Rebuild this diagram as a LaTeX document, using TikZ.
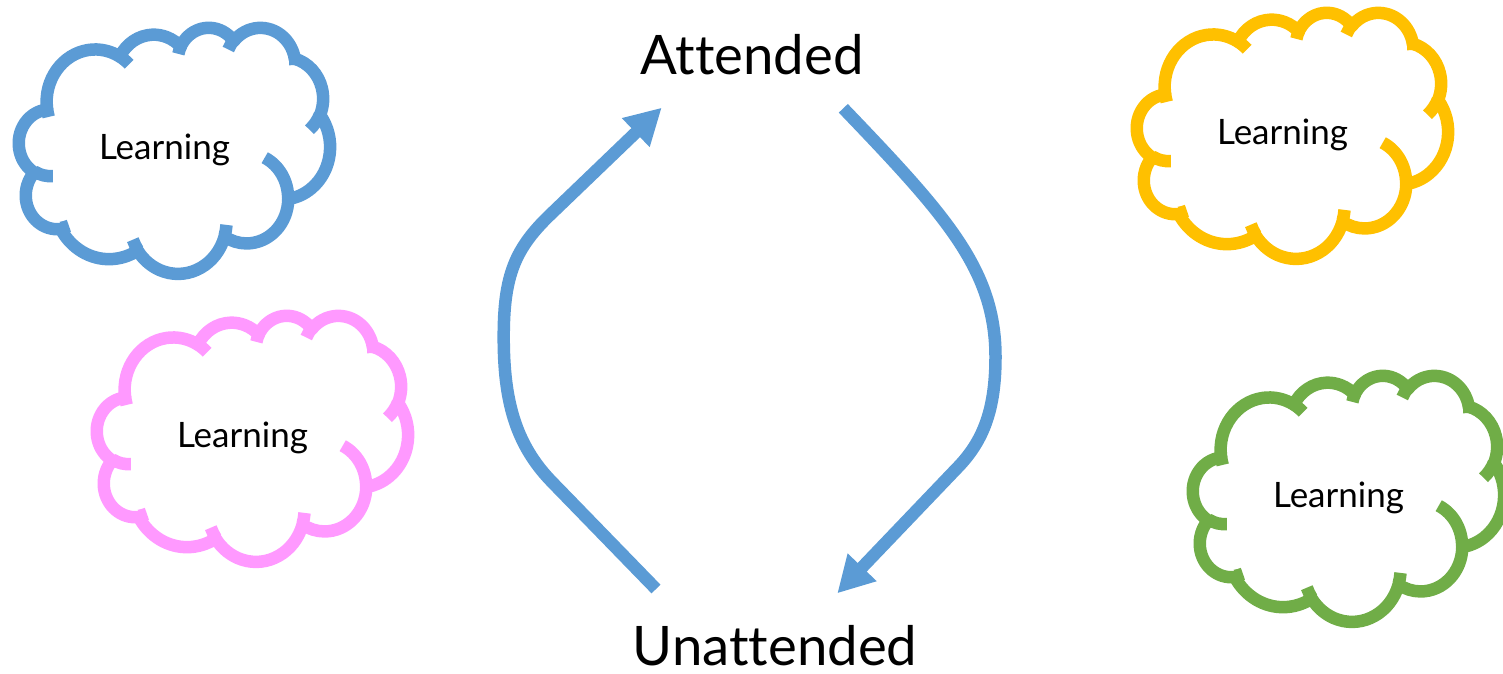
\documentclass[tikz,border=0pt]{standalone}
\usepackage{fontspec}
\setmainfont{Lato}[Ligatures={NoCommon}]
\usetikzlibrary{arrows.meta}
\definecolor{cblue}{HTML}{5B9BD5}
\definecolor{cyellow}{HTML}{FFC000}
\definecolor{cgreen}{HTML}{70AD47}
\definecolor{cpink}{HTML}{FF99FF}

% OOXML-style elliptical arc: wR, hR (in 1/100 units), start angle, swing (visual degrees)
\newcommand\mkarc[5]{%
  \pgfmathsetmacro\tmpArcS{atan2((#2)*sin(#4),(#3)*cos(#4))}%
  \pgfmathsetmacro\tmpArcE{atan2((#2)*sin(#4+#5),(#3)*cos(#4+#5))}%
  \pgfmathsetmacro\tmpArcD{mod((\tmpArcE)-(\tmpArcS)+720,360)}%
  \expandafter\xdef\csname cl#1\endcsname{arc[start angle=\tmpArcS,delta angle=\tmpArcD,x radius=#2pt,y radius=#3pt]}%
}
\mkarc{mA}{67.53}{91.90}{-190.4875}{123.7805}
\mkarc{mB}{53.33}{72.67}{-144.1024}{89.9452}
\mkarc{mC}{43.65}{59.45}{-145.8079}{99.7230}
\mkarc{mD}{48.57}{65.95}{-130.9861}{117.2417}
\mkarc{mE}{53.33}{72.73}{-78.7089}{109.0269}
\mkarc{mF}{67.75}{92.20}{-46.2673}{130.2690}
\mkarc{mG}{57.85}{78.67}{0.6250}{114.0333}
\mkarc{mH}{67.52}{92.15}{22.4516}{115.1726}
\mkarc{mI}{77.20}{105.43}{66.2426}{75.7110}
\mkarc{mJ}{43.60}{59.18}{-274.9421}{146.7356}
\mkarc{mK}{43.45}{59.45}{-246.8285}{152.5189}
\mkarc{iA}{43.45}{59.45}{86.7420}{26.4295}
\mkarc{iB}{43.60}{59.18}{73.6105}{11.4475}
\mkarc{iC}{67.52}{92.15}{137.6242}{14.0811}
\mkarc{iD}{67.52}{92.15}{6.4533}{15.9984}
\mkarc{iE}{57.85}{78.67}{-70.2924}{70.9174}
\mkarc{iF}{53.33}{72.73}{30.3180}{27.7515}
\mkarc{iG}{48.57}{65.95}{-13.7443}{14.8589}
\mkarc{iH}{48.57}{65.95}{-149.1815}{18.1954}
\mkarc{iI}{43.65}{59.45}{-163.4943}{17.6864}
\mkarc{iJ}{67.53}{91.90}{-66.7070}{12.3194}
\mkarc{iK}{67.53}{91.90}{157.6544}{11.8582}

\tikzset{
  cloudline/.style={line width=12.5pt, line join=round},
  lbl/.style={font=\fontsize{35}{42}\selectfont, anchor=base, inner sep=0pt},
  big/.style={font=\fontsize{54.5}{62}\selectfont, anchor=base, inner sep=0pt, text depth=0pt},
  flow/.style={draw=cblue, line width=12.5pt, -{Triangle[width=37.5pt,length=36pt]}}
}

% name, colour, frame x, frame y (pixels, y down)
\newcommand\cloudpic[4]{%
  \begin{scope}[shift={(#3,#4)},xscale=311/432,yscale=246/432]
    \path[cloudline,draw=#2,fill=white] (39.00,143.70) \clmA \clmB \clmC \clmD \clmE \clmF \clmG \clmH \clmI \clmJ \clmK -- cycle;
    \path[cloudline,draw=#2]
      (46.93,261.77) \cliA
      (69.28,348.99) \cliB
      (164.78,390.90) \cliC
      (288.27,347.51) \cliD
      (341.29,229.54) \cliE
      (417.98,153.54) \cliF
      (383.24,54.26) \cliG
      (290.78,39.52) \cliH
      (221.41,47.20) \cliI
      (140.00,51.92) \cliJ
      (41.27,157.89) \cliK;
  \end{scope}
  \node[lbl] (#1) at ({#3+145.5},{#4+132}) {Learning};
}

\begin{document}
\begin{tikzpicture}[x=1pt,y=1pt,yscale=-1]
\useasboundingbox (0,0) rectangle (1503,673);

\cloudpic{lblue}{cblue}{19}{27}
\cloudpic{lpink}{cpink}{97}{315}
\cloudpic{lyellow}{cyellow}{1137}{12}
\cloudpic{lgreen}{cgreen}{1193}{375}

\node[big] (att) at (752,74) {Attended};
\node[big] (unatt) at (775,665) {Unattended};

\coordinate (l0) at (656,589);
\coordinate (l1) at (552,482);
\coordinate (l2) at (503.7,337);
\coordinate (l3) at (552,213);
\coordinate (l4) at (661.7,107.7);
\draw[flow] (l0) -- (l1) .. controls (515,444) and (503.7,400) .. (l2)
  .. controls (503.7,275) and (515,248) .. (l3) -- (l4);

\coordinate (r0) at (843.3,108.3);
\coordinate (r1) at (995.5,357);
\coordinate (r2) at (960,465);
\coordinate (r3) at (837.3,593.3);
\draw[flow] (r0) .. controls (946.8,216.3) and (995.5,270) .. (r1)
  .. controls (995.5,410) and (983,440) .. (r2) -- (r3);
\end{tikzpicture}
\end{document}
